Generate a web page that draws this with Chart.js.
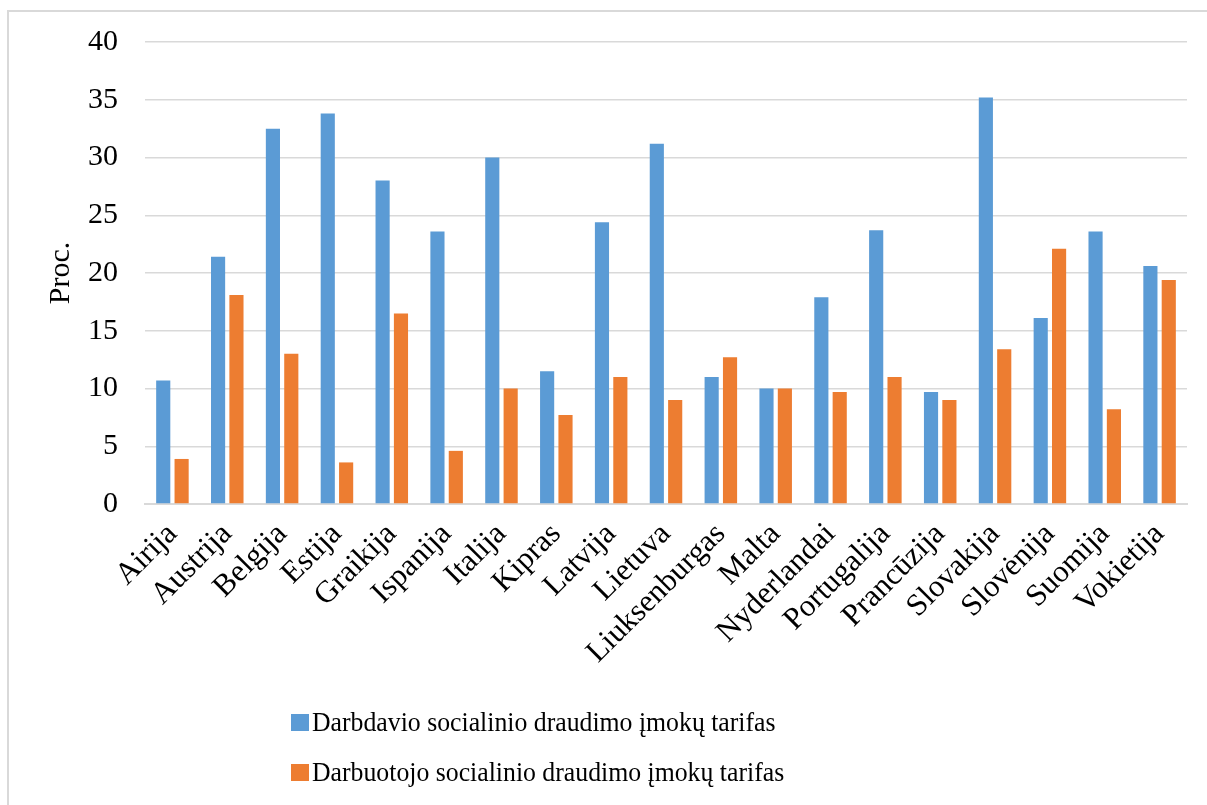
<!DOCTYPE html>
<html>
<head>
<meta charset="utf-8">
<script src="https://cdn.jsdelivr.net/npm/chart.js@4"></script>
<style>
  html, body { margin: 0; padding: 0; background: #fff; overflow: hidden; }
  #wrap { position: relative; width: 1207px; height: 805px; }
  #frame { position: absolute; left: 7px; top: 10px; width: 1400px; height: 1000px; border-left: 2px solid #d9d9d9; border-top: 2px solid #d9d9d9; box-sizing: border-box; }
  canvas { position: absolute; left: 0; top: 0; }
  #legend { position: absolute; left: 291px; top: 697px; font-family: "Liberation Serif", "Times New Roman", serif; font-size: 28px; color: #000; }
  .item { display: flex; align-items: center; height: 50px; }
  .sw { width: 18px; height: 17px; margin-right: 3px; flex: none; }
  .txt { display: inline-block; transform: scaleX(0.92); transform-origin: left center; white-space: nowrap; }
</style>
</head>
<body>
<div id="wrap">
  <div id="frame"></div>
  <canvas id="c" width="1207" height="805"></canvas>
  <div id="legend"></div>
</div>
<script>
const categories = ["Airija","Austrija","Belgija","Estija","Graikija","Ispanija","Italija","Kipras","Latvija","Lietuva","Liuksenburgas","Malta","Nyderlandai","Portugalija","Prancūzija","Slovakija","Slovėnija","Suomija","Vokietija"];
const employerRate = [10.7,21.4,32.5,33.8,28.0,23.6,30.0,11.5,24.4,31.2,11.0,10.0,17.9,23.7,9.7,35.2,16.1,23.6,20.6];
const employeeRate = [3.9,18.1,13.0,3.6,16.5,4.6,10.0,7.7,11.0,9.0,12.7,10.0,9.7,11.0,9.0,13.4,22.1,8.2,19.4];
const seriesNames = ["Darbdavio socialinio draudimo įmokų tarifas","Darbuotojo socialinio draudimo įmokų tarifas"];
const seriesColors = ["#5B9BD5","#ED7D31"];
const yTitle = "Proc.";

const FONT = "'Liberation Serif', 'Times New Roman', serif";

const chart = new Chart(document.getElementById('c'), {
  type: 'bar',
  data: {
    labels: categories,
    datasets: [
      { label: seriesNames[0], data: employerRate, backgroundColor: seriesColors[0], categoryPercentage: 0.67, barPercentage: 0.77 },
      { label: seriesNames[1], data: employeeRate, backgroundColor: seriesColors[1], categoryPercentage: 0.67, barPercentage: 0.77 }
    ]
  },
  options: {
    responsive: false,
    animation: false,
    layout: { padding: { left: 43, top: 42, right: 20, bottom: 101 } },
    plugins: { legend: { display: false }, tooltip: { enabled: false } },
    scales: {
      x: {
        grid: { display: false },
        border: { color: '#d9d9d9', width: 2 },
        ticks: { color: '#000', font: { family: FONT, size: 31 }, minRotation: 45, maxRotation: 45, padding: 4, autoSkip: false },
        afterFit: (s) => { s.height = 200; s.paddingLeft = 0; s.paddingRight = 0; }
      },
      y: {
        min: 0, max: 40,
        ticks: { stepSize: 5, color: '#000', font: { family: FONT, size: 30 }, padding: 27 },
        grid: { color: '#d9d9d9', lineWidth: 1.5, drawTicks: false },
        border: { display: false },
        title: { display: true, text: yTitle, color: '#000', font: { family: FONT, size: 30 }, padding: 0 },
        afterFit: (s) => { s.width = 102; s.paddingTop = 0; s.paddingBottom = 0; }
      }
    }
  }
});

const lg = document.getElementById('legend');
seriesNames.forEach((n, i) => {
  const d = document.createElement('div');
  d.className = 'item';
  const sw = document.createElement('span');
  sw.className = 'sw';
  sw.style.background = seriesColors[i];
  const t = document.createElement('span');
  t.className = 'txt';
  t.textContent = n;
  d.appendChild(sw); d.appendChild(t);
  lg.appendChild(d);
});
</script>
</body>
</html>
